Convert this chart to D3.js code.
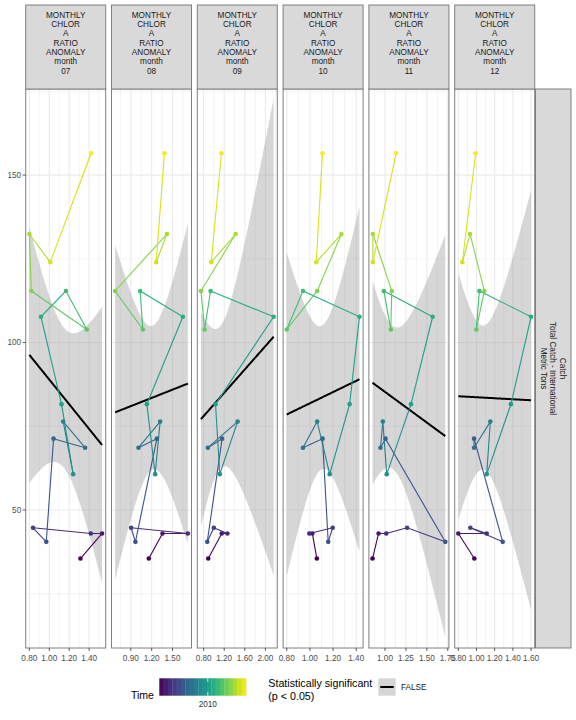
<!DOCTYPE html>
<html><head><meta charset="utf-8">
<script src="https://cdn.jsdelivr.net/npm/d3@7/dist/d3.min.js"></script>
<style>
body{margin:0;background:#fff}
svg{display:block}
text{font-family:"Liberation Sans",Arial,Helvetica,sans-serif}
</style>
</head><body>
<svg id="chart" width="576" height="720"></svg>
<script>
// ---------------- DATA ----------------
const years = [2001,2002,2003,2004,2005,2006,2007,2008,2009,2010,2011,2012,2013,2014,2015,2016,2017];
const catchTons = [35.5,43.0,43.0,44.7,40.5,71.3,68.6,76.4,60.7,81.6,107.7,115.4,103.9,115.4,132.4,124.0,156.5];
const months = ["07","08","09","10","11","12"];
const chl07 = [1.313,1.530,1.417,0.837,0.970,1.043,1.360,1.140,1.240,1.123,0.917,1.167,1.377,0.820,0.800,1.010,1.420];
const chl08 = [1.159,1.356,1.721,0.904,0.966,1.275,1.010,1.322,1.250,1.131,1.649,1.034,1.073,0.674,1.419,1.265,1.384];
const chl09 = [0.890,1.152,1.262,0.998,0.871,1.159,0.883,1.460,1.114,1.031,2.160,0.935,0.819,0.748,1.422,0.948,1.146];
const chl10 = [1.060,1.021,0.995,1.197,1.158,1.109,0.940,1.063,1.171,1.343,1.428,0.940,0.800,1.063,1.272,1.055,1.109];
const chl11 = [0.851,0.923,1.014,1.264,1.720,1.006,0.946,0.974,1.021,1.311,1.569,0.986,1.069,1.081,0.855,0.855,1.133];
const chl12 = [0.976,0.800,1.112,0.932,1.288,0.973,0.973,1.152,1.112,1.379,1.600,1.031,0.998,1.086,0.929,0.844,0.991];
const xTicks07 = [0.8,1.0,1.2,1.4];
const xTicks08 = [0.9,1.2,1.5];
const xTicks09 = [0.8,1.2,1.6,2.0];
const xTicks10 = [0.8,1.0,1.2,1.4];
const xTicks11 = [1.0,1.25,1.5,1.75];
const xTicks12 = [0.8,1.0,1.2,1.4,1.6];
const yTicks = [50,100,150];
const yMinor = [25,75,125,175];
const stripLines = ["MONTHLY","CHLOR","A","RATIO","ANOMALY","month"];
const rightStripLines = ["Catch","Total Catch - International","Metric Tons"];
const legendTimeBreaks = [2010];
const sigLevels = ["FALSE"];

const chlByMonth = [chl07,chl08,chl09,chl10,chl11,chl12];
const ticksByMonth = [xTicks07,xTicks08,xTicks09,xTicks10,xTicks11,xTicks12];

// ---------------- LAYOUT ----------------
const svg = d3.select("#chart");
const panelTop = 89, panelBottom = 648, panelW = 80, panelStep = 85.8, firstLeft = 25.7;
const stripTop = 5;
const borderCol = "#7f7f7f";
const gridCol = "#ebebeb";
const fmt2 = d3.format(".2f");

const y = d3.scaleLinear().domain([8.8, 175.7]).range([panelBottom, panelTop]);
const color = d3.scaleSequential(d3.interpolateViridis).domain([d3.min(years), d3.max(years)]);
const tCrit = 2.3; // t multiplier (df = 15) for the confidence band

function lmFit(xs, ys){
  const n = xs.length, xb = d3.mean(xs), yb = d3.mean(ys);
  let sxx=0, sxy=0;
  for(let i=0;i<n;i++){ sxx += (xs[i]-xb)**2; sxy += (xs[i]-xb)*(ys[i]-yb); }
  const b = sxy/sxx, a = yb - b*xb;
  let sse = 0;
  for(let i=0;i<n;i++){ sse += (ys[i]-(a+b*xs[i]))**2; }
  const s = Math.sqrt(sse/(n-2));
  return {a,b,s,xb,sxx,n};
}

const defs = svg.append("defs");

months.forEach((m, pi) => {
  const left = firstLeft + pi*panelStep;
  const xs = chlByMonth[pi];
  const ext = d3.extent(xs);
  const r = ext[1]-ext[0];
  const x = d3.scaleLinear().domain([ext[0]-0.05*r, ext[1]+0.05*r]).range([left, left+panelW]);
  const ticks = ticksByMonth[pi];
  const step = ticks[1]-ticks[0];

  defs.append("clipPath").attr("id","clip"+pi)
    .append("rect").attr("x",left).attr("y",panelTop).attr("width",panelW).attr("height",panelBottom-panelTop);

  const g = svg.append("g");
  g.append("rect").attr("x",left).attr("y",panelTop).attr("width",panelW).attr("height",panelBottom-panelTop).attr("fill","#fff");

  const grid = g.append("g").attr("clip-path","url(#clip"+pi+")");
  const xMinor = [];
  for(let i=-1;i<ticks.length;i++){ const v = ticks[0] + (i+0.5)*step; if(v>x.domain()[0] && v<x.domain()[1]) xMinor.push(v); }
  grid.selectAll(".xmin").data(xMinor).join("line")
    .attr("x1",d=>x(d)).attr("x2",d=>x(d)).attr("y1",panelTop).attr("y2",panelBottom)
    .attr("stroke",gridCol).attr("stroke-width",0.6);
  grid.selectAll(".ymin").data(yMinor).join("line")
    .attr("x1",left).attr("x2",left+panelW).attr("y1",d=>y(d)).attr("y2",d=>y(d))
    .attr("stroke",gridCol).attr("stroke-width",0.6);
  grid.selectAll(".xmaj").data(ticks).join("line")
    .attr("x1",d=>x(d)).attr("x2",d=>x(d)).attr("y1",panelTop).attr("y2",panelBottom)
    .attr("stroke",gridCol).attr("stroke-width",1.1);
  grid.selectAll(".ymaj").data(yTicks).join("line")
    .attr("x1",left).attr("x2",left+panelW).attr("y1",d=>y(d)).attr("y2",d=>y(d))
    .attr("stroke",gridCol).attr("stroke-width",1.1);

  // smooth (linear fit with confidence band)
  const fit = lmFit(xs, catchTons);
  const grid80 = d3.range(80).map(i => ext[0] + i*(r/79));
  const band = grid80.map(xv => {
    const yh = fit.a + fit.b*xv;
    const se = fit.s*Math.sqrt(1/fit.n + (xv-fit.xb)**2/fit.sxx);
    return {x:xv, y:yh, lo:yh - tCrit*se, hi:yh + tCrit*se};
  });
  const clipG = g.append("g").attr("clip-path","url(#clip"+pi+")");
  clipG.append("path").datum(band)
    .attr("d", d3.area().x(d=>x(d.x)).y0(d=>y(d.lo)).y1(d=>y(d.hi)))
    .attr("fill","#999999").attr("fill-opacity",0.4);
  clipG.append("path").datum(band)
    .attr("d", d3.line().x(d=>x(d.x)).y(d=>y(d.y)))
    .attr("fill","none").attr("stroke","#000").attr("stroke-width",2);

  const pts = years.map((yr,i)=>({yr, x:xs[i], y:catchTons[i]}));
  const segs = d3.pairs(pts);
  clipG.selectAll(".seg").data(segs).join("line")
    .attr("x1",d=>x(d[0].x)).attr("y1",d=>y(d[0].y))
    .attr("x2",d=>x(d[1].x)).attr("y2",d=>y(d[1].y))
    .attr("stroke",d=>color(d[0].yr)).attr("stroke-width",1.1).attr("stroke-linecap","butt");
  clipG.selectAll(".pt").data(pts).join("circle")
    .attr("cx",d=>x(d.x)).attr("cy",d=>y(d.y)).attr("r",2.3)
    .attr("fill",d=>color(d.yr));

  g.append("rect").attr("x",left).attr("y",panelTop).attr("width",panelW).attr("height",panelBottom-panelTop)
    .attr("fill","none").attr("stroke",borderCol).attr("stroke-width",1);

  g.append("rect").attr("x",left).attr("y",stripTop).attr("width",panelW).attr("height",panelTop-stripTop)
    .attr("fill","#d9d9d9").attr("stroke",borderCol).attr("stroke-width",1);
  const lines = stripLines.concat([m]);
  g.selectAll(".st").data(lines).join("text")
    .attr("x",left+panelW/2).attr("y",(d,i)=>15+i*9.3)
    .attr("dy","0.35em").attr("text-anchor","middle")
    .attr("font-size",8.2).attr("fill","#1a1a1a").text(d=>d);

  const ax = g.append("g");
  ax.selectAll("line").data(ticks).join("line")
    .attr("x1",d=>x(d)).attr("x2",d=>x(d)).attr("y1",panelBottom).attr("y2",panelBottom+3)
    .attr("stroke","#333").attr("stroke-width",0.8);
  ax.selectAll("text").data(ticks).join("text")
    .attr("x",d=>x(d)).attr("y",658).attr("dy","0.35em").attr("text-anchor","middle")
    .attr("font-size",8.2).attr("fill","#4d4d4d").text(d=>fmt2(d));

  if(pi===0){
    const ay = svg.append("g");
    ay.selectAll("line").data(yTicks).join("line")
      .attr("x1",left-3).attr("x2",left).attr("y1",d=>y(d)).attr("y2",d=>y(d))
      .attr("stroke","#333").attr("stroke-width",0.8);
    ay.selectAll("text").data(yTicks).join("text")
      .attr("x",left-4.5).attr("y",d=>y(d)).attr("dy","0.35em").attr("text-anchor","end")
      .attr("font-size",8.2).attr("fill","#4d4d4d").text(d=>d);
  }
});

// right strip
const rsx = 535.5, rsw = 35.5;
svg.append("rect").attr("x",rsx).attr("y",panelTop).attr("width",rsw).attr("height",panelBottom-panelTop)
  .attr("fill","#d9d9d9").attr("stroke",borderCol).attr("stroke-width",1);
const rsg = svg.append("g").attr("transform",`translate(${rsx+rsw/2},${(panelTop+panelBottom)/2}) rotate(90)`);
rsg.selectAll("text").data(rightStripLines).join("text")
  .attr("x",0).attr("y",(d,i)=>(i-1)*9.5).attr("dy","0.35em").attr("text-anchor","middle")
  .attr("font-size",8.2).attr("fill","#1a1a1a").text(d=>d);

// ---------------- LEGENDS ----------------
const lg = svg.append("g");
lg.append("text").attr("x",131).attr("y",695).attr("dy","0.35em").attr("font-size",10.5).attr("fill","#000").text("Time");
const cbX = 159.3, cbY = 678.3, cbW = 86.7, cbH = 17.4, nbin = 20;
lg.selectAll(".bin").data(d3.range(nbin)).join("rect")
  .attr("x",i=>cbX + i*cbW/nbin).attr("y",cbY).attr("width",cbW/nbin+0.3).attr("height",cbH)
  .attr("fill",i=>color(d3.min(years) + (i+0.5)/nbin*(d3.max(years)-d3.min(years))));
const cbScale = d3.scaleLinear().domain(d3.extent(years)).range([cbX + cbW/(2*nbin), cbX + cbW - cbW/(2*nbin)]);
legendTimeBreaks.forEach(b=>{
  lg.append("line").attr("x1",cbScale(b)).attr("x2",cbScale(b)).attr("y1",cbY).attr("y2",cbY+3.5).attr("stroke","#fff").attr("stroke-width",0.8);
  lg.append("line").attr("x1",cbScale(b)).attr("x2",cbScale(b)).attr("y1",cbY+cbH-3.5).attr("y2",cbY+cbH).attr("stroke","#fff").attr("stroke-width",0.8);
  lg.append("text").attr("x",cbScale(b)).attr("y",704.3).attr("dy","0.35em").attr("text-anchor","middle")
    .attr("font-size",8.2).attr("fill","#333").text(b);
});

lg.append("text").attr("x",268.3).attr("y",683.3).attr("dy","0.35em").attr("font-size",10.7).attr("fill","#000").text("Statistically significant");
lg.append("text").attr("x",268.3).attr("y",696).attr("dy","0.35em").attr("font-size",10.7).attr("fill","#000").text("(p < 0.05)");
sigLevels.forEach((lvl,i)=>{
  const kx = 378.3, ky = 678.3 + i*17.4;
  lg.append("rect").attr("x",kx).attr("y",ky).attr("width",17.4).attr("height",17.4).attr("fill","#d6d6d6");
  lg.append("line").attr("x1",kx+2).attr("x2",kx+15.4).attr("y1",ky+8.7).attr("y2",ky+8.7).attr("stroke","#000").attr("stroke-width",2);
  lg.append("text").attr("x",401).attr("y",ky+9).attr("dy","0.35em").attr("font-size",8.2).attr("fill","#1a1a1a").text(lvl);
});
</script>
</body></html>
